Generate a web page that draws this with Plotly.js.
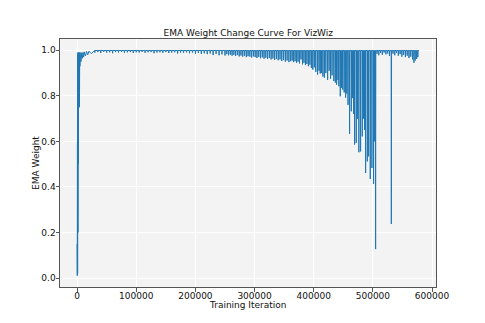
<!DOCTYPE html>
<html>
<head>
<meta charset="utf-8">
<script src="https://cdn.plot.ly/plotly-3.0.1.min.js"></script>
<style>
  html, body { margin: 0; padding: 0; background: #fff; }
  #chart { width: 485px; height: 323px; }
</style>
</head>
<body>
<div id="chart"></div>
<script>
// EMA weight over training iterations (VizWiz).

// warm-up: the first ~30k iterations, point by point
const earlyX = [0, 300, 600, 900, 1200, 1500, 1800, 2100, 2400, 2700, 3000, 3300, 3600, 4000,
                4400, 4800, 5200, 5600, 6000, 6500, 7000, 7500, 8000, 9000, 10000, 11000,
                12000, 14000, 16000, 18000, 20000, 24000, 28000];
const earlyY = [0.15, 0.01, 0.60, 0.02, 0.99, 0.20, 0.98, 0.50, 0.99, 0.85, 0.99, 0.90, 0.99,
                0.75, 0.98, 0.93, 0.99, 0.94, 0.985, 0.95, 0.99, 0.96, 0.99, 0.965, 0.99,
                0.97, 0.993, 0.975, 0.995, 0.98, 0.996, 0.985, 0.997];

// plateau level the curve sits on between dips
const plateau = 0.999;

// dips below the plateau: iteration, lowest EMA weight
const dipX = [
  30000, 35000, 40000, 45000, 50000, 55000, 60000, 65000, 70000, 75000, 80000, 85000,
  90000, 95000, 100000, 105000, 110000, 115000, 120000, 125000, 130000, 135000, 140000,
  145000, 150000, 155000, 160000, 165000, 170000, 175000, 180000, 185000, 190000, 195000,
  200000, 205000, 210000, 215000, 220000, 225000, 230000, 235000, 240000, 245000, 250000,
  253000, 256000, 259000, 262000, 265000, 268000, 271000, 274000, 277000, 280000, 283000,
  286000, 289000, 292000, 295000, 298000, 301000, 304000, 307000, 310000, 313000, 316000,
  319000, 322000, 325000, 328000, 331000, 334000, 337000, 340000, 343000, 346000, 349000,
  352000, 355000, 358000, 361000,
  363500, 366000, 368500, 371000, 373500, 376000, 378500, 381000, 383500, 386000, 388500,
  391000, 393500, 396000, 398500, 401000, 403500, 406500, 409000, 411000, 413000, 415500,
  418000, 420500, 423500, 426000, 428500, 431000, 434000, 436500, 438700, 441000, 442500,
  444900, 447000, 449000, 451500, 453900,
  456000, 458000, 460600, 463500, 465700, 467500, 469100, 471900, 474000, 476300, 479200,
  482100, 484300, 486000, 487700, 490600, 492800, 495600, 498400, 501200, 503000, 504600,
  507000, 510000, 513000, 516000, 519000, 522000, 525000, 528000, 531200, 534000, 537000,
  540000, 543000, 546000, 549000, 552000, 555000, 558000, 561000, 564000, 567000, 569400,
  571500, 574000, 576000];
const dipY = [
  0.990, 0.992, 0.988, 0.993, 0.990, 0.991, 0.987, 0.992, 0.990, 0.993, 0.989, 0.991,
  0.992, 0.988, 0.991, 0.990, 0.993, 0.989, 0.991, 0.992, 0.987, 0.990, 0.991,
  0.989, 0.992, 0.988, 0.990, 0.991, 0.986, 0.990, 0.989, 0.991, 0.987, 0.990,
  0.985, 0.988, 0.984, 0.987, 0.983, 0.986, 0.979, 0.984, 0.978, 0.982, 0.977,
  0.983, 0.978, 0.981, 0.976, 0.980, 0.975, 0.979, 0.973, 0.977, 0.972, 0.976,
  0.970, 0.974, 0.972, 0.968, 0.973, 0.970, 0.966, 0.971, 0.965, 0.969, 0.963,
  0.967, 0.962, 0.966, 0.960, 0.964, 0.958, 0.962, 0.956, 0.960, 0.953, 0.957,
  0.950, 0.955, 0.948, 0.952,
  0.955, 0.948, 0.952, 0.945, 0.950, 0.942, 0.960, 0.938, 0.945, 0.935, 0.940,
  0.930, 0.937, 0.922, 0.915, 0.925, 0.905, 0.893, 0.910, 0.898, 0.900, 0.885,
  0.880, 0.900, 0.870, 0.910, 0.875, 0.890, 0.865, 0.858, 0.849, 0.870, 0.842,
  0.798, 0.835, 0.827, 0.815, 0.792,
  0.810, 0.760, 0.633, 0.732, 0.790, 0.720, 0.586, 0.593, 0.700, 0.552, 0.556,
  0.622, 0.700, 0.650, 0.461, 0.512, 0.534, 0.435, 0.483, 0.414, 0.600, 0.127,
  0.985, 0.978, 0.988, 0.980, 0.990, 0.982, 0.986, 0.975, 0.237, 0.985, 0.978,
  0.988, 0.976, 0.983, 0.972, 0.980, 0.970, 0.976, 0.966, 0.972, 0.960, 0.945,
  0.955, 0.962, 0.970];
const lastX = 577800;

const xTicks = [0, 100000, 200000, 300000, 400000, 500000, 600000];
const xTickText = ['0', '100000', '200000', '300000', '400000', '500000', '600000'];
const yTicks = [0, 0.2, 0.4, 0.6, 0.8, 1.0];
const yTickText = ['0.0', '0.2', '0.4', '0.6', '0.8', '1.0'];

// the line drops straight into each dip and climbs back to the plateau
const xs = earlyX.slice();
const ys = earlyY.slice();
dipX.forEach((x, i) => {
  xs.push(x - 350, x, x + 350);
  ys.push(plateau, dipY[i], plateau);
});
xs.push(lastX);
ys.push(plateau);

const FONT = { family: 'DejaVu Sans, sans-serif', size: 9, color: '#111' };
const AXIS = {
  showline: true, mirror: true, linecolor: '#555', linewidth: 1,
  ticks: 'outside', ticklen: 3.5, tickcolor: '#555', tickwidth: 1,
  gridcolor: '#ffffff', gridwidth: 1, zeroline: false,
  tickfont: FONT,
};

Plotly.newPlot('chart', [{
  type: 'scatter', mode: 'lines', x: xs, y: ys,
  line: { color: '#1f77b4', width: 1 },
  hoverinfo: 'skip',
}], {
  width: 485, height: 323,
  paper_bgcolor: '#ffffff',
  plot_bgcolor: '#f3f3f3',
  font: FONT,
  showlegend: false,
  margin: { l: 60, r: 49, t: 39, b: 36 },
  title: { text: 'EMA Weight Change Curve For VizWiz', font: FONT,
           x: 0.512, xanchor: 'center', y: 0.898, yanchor: 'middle' },
  xaxis: { ...AXIS, range: [-28890, 606690], tickvals: xTicks, ticktext: xTickText,
           ticklabelstandoff: -3 },
  yaxis: { ...AXIS, range: [-0.0395, 1.0495], tickvals: yTicks, ticktext: yTickText,
           ticklabelstandoff: -2,
           title: { text: 'EMA Weight', font: FONT, standoff: 0 } },
  annotations: [
    { text: 'Training Iteration', xref: 'paper', yref: 'paper', x: 0.5, y: -0.073,
      xanchor: 'center', yanchor: 'middle', showarrow: false, font: FONT },
  ],
}, { displayModeBar: false, staticPlot: true });
</script>
</body>
</html>
